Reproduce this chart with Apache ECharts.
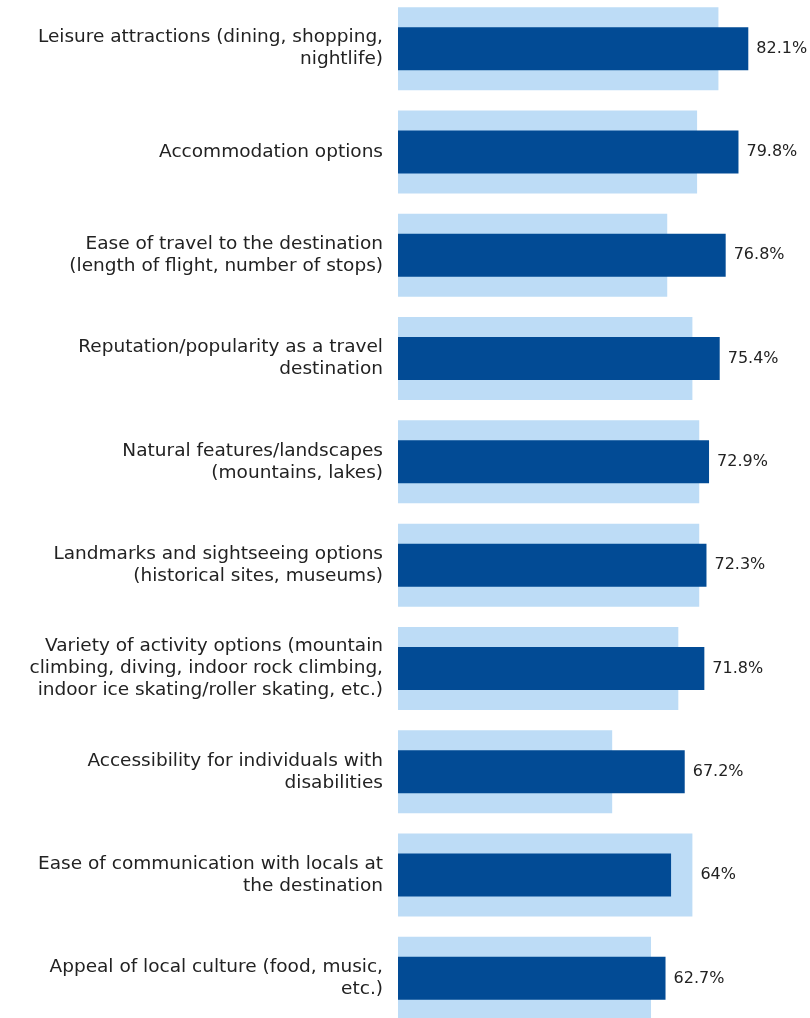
<!DOCTYPE html>
<html><head><meta charset="utf-8">
<script src="https://cdn.jsdelivr.net/npm/echarts@6/dist/echarts.min.js"></script>
<style>html,body{margin:0;padding:0;background:#fff}#c{width:810px;height:1018px}</style>
</head><body><div id="c"></div>
<script>
const categories = [
  "Leisure attractions (dining, shopping,\nnightlife)",
  "Accommodation options",
  "Ease of travel to the destination\n(length of flight, number of stops)",
  "Reputation/popularity as a travel\ndestination",
  "Natural features/landscapes\n(mountains, lakes)",
  "Landmarks and sightseeing options\n(historical sites, museums)",
  "Variety of activity options (mountain\nclimbing, diving, indoor rock climbing,\nindoor ice skating/roller skating, etc.)",
  "Accessibility for individuals with\ndisabilities",
  "Ease of communication with locals at\nthe destination",
  "Appeal of local culture (food, music,\netc.)"
];
const currentValues = [82.1, 79.8, 76.8, 75.4, 72.9, 72.3, 71.8, 67.2, 64, 62.7];
const previousValues = [75.1, 70.1, 63.1, 69.0, 70.6, 70.6, 65.7, 50.2, 69.0, 59.3];

const FONT = "DejaVu Sans";
const labelStyle = {show: true, position: 'right', distance: 8, color: '#222', fontSize: 16, fontFamily: FONT,
  formatter: p => currentValues[p.dataIndex] + '%'};

const lightData = previousValues.map((v, i) => ({value: v, label: v > currentValues[i] ? labelStyle : {show: false}}));
const darkData = currentValues.map((v, i) => ({value: v, label: v >= previousValues[i] ? labelStyle : {show: false}}));

const chart = echarts.init(document.getElementById('c'));
chart.setOption({
  animation: false,
  grid: {left: 398, width: 384, top: -3, height: 1033, containLabel: false, outerBoundsMode: 'none'},
  xAxis: {type: 'value', min: 0, max: 90, show: false},
  yAxis: [
    {type: 'category', data: categories, inverse: true,
      axisLine: {show: false}, axisTick: {show: false}, splitLine: {show: false},
      axisLabel: {margin: 15, color: '#222', fontSize: 18.5, fontFamily: FONT, lineHeight: 22, align: 'right'}},
    {type: 'category', data: categories, inverse: true, show: false, position: 'left'}
  ],
  series: [
    {type: 'bar', yAxisIndex: 0, data: lightData, barWidth: 83, itemStyle: {color: '#bddcf6'}, z: 1},
    {type: 'bar', yAxisIndex: 1, data: darkData, barWidth: 43, itemStyle: {color: '#024b95'}, z: 2}
  ]
});
</script></body></html>
